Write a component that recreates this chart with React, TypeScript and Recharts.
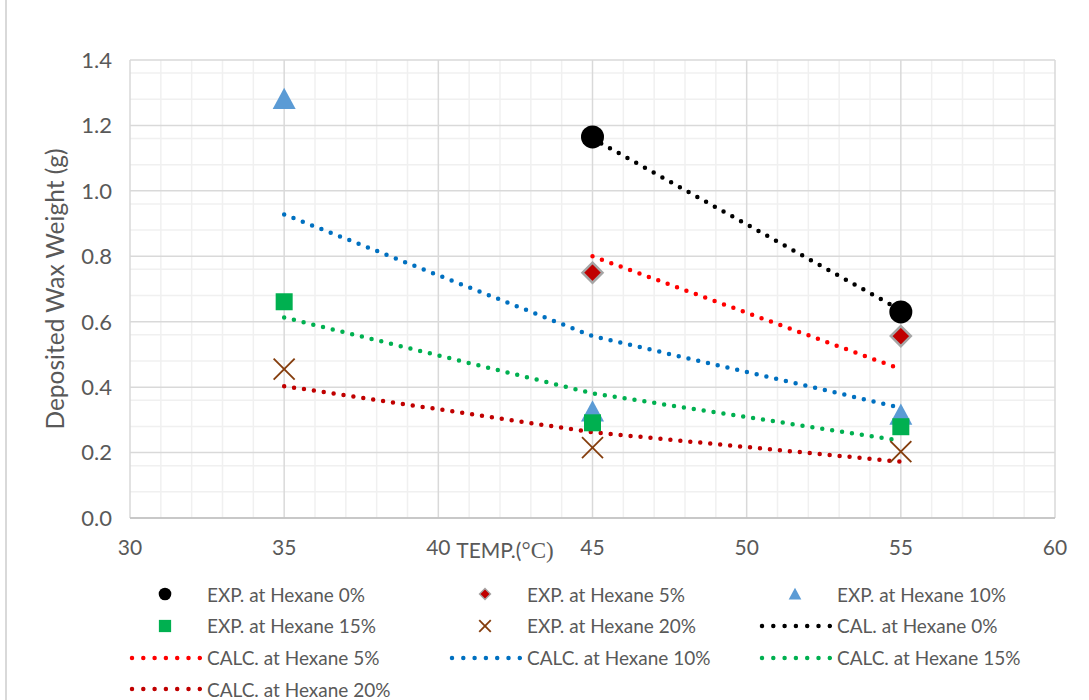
import React from 'react';
import {
  ComposedChart,
  Line,
  Scatter,
  XAxis,
  YAxis,
  CartesianGrid,
} from 'recharts';

// temperatures (°C) and deposited wax weight (g)
const temps = [35, 45, 55];
const tempsHigh = [45, 55];

const expHex0 = [1.165, 0.63];
const expHex5 = [0.75, 0.556];
const expHex10 = [1.28, 0.325, 0.315];
const expHex15 = [0.661, 0.291, 0.279];
const expHex20 = [0.455, 0.215, 0.203];

const calHex0 = [1.16, 0.635];
const calcHex5 = [0.8, 0.455];
const calcHex10 = [0.928, 0.556, 0.337];
const calcHex15 = [0.613, 0.381, 0.236];
const calcHex20 = [0.403, 0.262, 0.172];

const xTicks = [30, 35, 40, 45, 50, 55, 60];
const yTicks = [0, 0.2, 0.4, 0.6, 0.8, 1.0, 1.2, 1.4];
const xMinor = [31, 32, 33, 34, 36, 37, 38, 39, 41, 42, 43, 44, 46, 47, 48, 49, 51, 52, 53, 54, 56, 57, 58, 59];
const yMinor = [0.04, 0.08, 0.12, 0.16, 0.24, 0.28, 0.32, 0.36, 0.44, 0.48, 0.52, 0.56, 0.64, 0.68, 0.72, 0.76, 0.84, 0.88, 0.92, 0.96, 1.04, 1.08, 1.12, 1.16, 1.24, 1.28, 1.32, 1.36];

const toPoints = (xs: number[], ys: number[]) => xs.map((x, i) => ({ x, y: ys[i] }));

const FONT = 'Lato, "Open Sans", sans-serif';
const TEXT = '#595959';

type Kind = 'circle' | 'diamond' | 'triangle' | 'square' | 'cross';

// legend symbols are drawn a bit smaller than the plotted markers
const legendScale: Record<Kind, number> = { circle: 0.55, diamond: 0.55, triangle: 0.55, square: 0.72, cross: 0.55 };

const Marker = ({ kind, cx, cy, s = 1 }: { kind: Kind; cx: number; cy: number; s?: number }) => {
  switch (kind) {
    case 'circle':
      return <circle cx={cx} cy={cy} r={11.5 * s} fill="#000" />;
    case 'diamond': {
      const r = 10 * s;
      return (
        <polygon
          points={`${cx},${cy - r} ${cx + r},${cy} ${cx},${cy + r} ${cx - r},${cy}`}
          fill="#c00000"
          stroke="#a5a5a5"
          strokeWidth={2.5 * s}
        />
      );
    }
    case 'triangle': {
      const r = 11.5 * s;
      return (
        <polygon
          points={`${cx},${cy - r} ${cx + r},${cy + r * 0.85} ${cx - r},${cy + r * 0.85}`}
          fill="#5b9bd5"
        />
      );
    }
    case 'square': {
      const r = 8.5 * s;
      return <rect x={cx - r} y={cy - r} width={2 * r} height={2 * r} fill="#00b050" />;
    }
    case 'cross': {
      const r = 10.5 * s;
      return (
        <g stroke="#843c0c" strokeWidth={1.8}>
          <line x1={cx - r} y1={cy - r} x2={cx + r} y2={cy + r} />
          <line x1={cx - r} y1={cy + r} x2={cx + r} y2={cy - r} />
        </g>
      );
    }
  }
  return null;
};

const expSeries: { name: string; data: { x: number; y: number }[]; kind: Kind }[] = [
  { name: 'EXP. at Hexane 0%', data: toPoints(tempsHigh, expHex0), kind: 'circle' },
  { name: 'EXP. at Hexane 5%', data: toPoints(tempsHigh, expHex5), kind: 'diamond' },
  { name: 'EXP. at Hexane 10%', data: toPoints(temps, expHex10), kind: 'triangle' },
  { name: 'EXP. at Hexane 15%', data: toPoints(temps, expHex15), kind: 'square' },
  { name: 'EXP. at Hexane 20%', data: toPoints(temps, expHex20), kind: 'cross' },
];

const calcSeries = [
  { name: 'CAL. at Hexane 0%', data: toPoints(tempsHigh, calHex0), color: '#000000' },
  { name: 'CALC. at Hexane 5%', data: toPoints(tempsHigh, calcHex5), color: '#ff0000' },
  { name: 'CALC. at Hexane 10%', data: toPoints(temps, calcHex10), color: '#0070c0' },
  { name: 'CALC. at Hexane 15%', data: toPoints(temps, calcHex15), color: '#00b050' },
  { name: 'CALC. at Hexane 20%', data: toPoints(temps, calcHex20), color: '#c00000' },
];

const legendItems = [
  ...expSeries.map((s) => ({ name: s.name, kind: s.kind as Kind | null, color: '' })),
  ...calcSeries.map((s) => ({ name: s.name, kind: null as Kind | null, color: s.color })),
];

const ChartLegend = () => {
  const colX = [120, 440, 750];
  return (
    <div style={{ position: 'absolute', left: 0, top: 578, width: 1089 }}>
      {legendItems.map((item, i) => {
        const col = i % 3;
        const row = Math.floor(i / 3);
        return (
          <div
            key={item.name}
            style={{
              position: 'absolute',
              left: colX[col],
              top: row * 31.8,
              height: 32,
              display: 'flex',
              alignItems: 'center',
              fontFamily: FONT,
              fontSize: 19,
              color: TEXT,
              whiteSpace: 'nowrap',
            }}
          >
            <svg width={82} height={20} style={{ marginRight: 5 }}>
              {item.kind ? (
                <Marker kind={item.kind} cx={45} cy={10} s={legendScale[item.kind]} />
              ) : (
                <line
                  x1={12}
                  y1={10}
                  x2={80}
                  y2={10}
                  stroke={item.color}
                  strokeWidth={4.5}
                  strokeDasharray="0 11.3"
                  strokeLinecap="round"
                />
              )}
            </svg>
            {item.name}
          </div>
        );
      })}
    </div>
  );
};

const XTitle = () => (
  <text x={505} y={558} textAnchor="middle" fill={TEXT} fontSize={21}>
    <tspan fontFamily={FONT}>TEMP.(</tspan>
    <tspan fontFamily='"Liberation Serif", serif' fontSize={23}>°C)</tspan>
  </text>
);

const App: React.FC = () => {
  return (
    <div style={{ position: 'absolute', left: 0, top: 0, width: 1089, height: 700, background: '#fff', overflow: 'hidden' }}>
      <ComposedChart
        width={1089}
        height={700}
        margin={{ top: 60, right: 34, left: 0, bottom: 142 }}
        style={{ fontFamily: FONT }}
      >
        <CartesianGrid verticalValues={xMinor} horizontalValues={yMinor} stroke="#f0f0f0" strokeWidth={1.5} />
        <CartesianGrid stroke="#d9d9d9" strokeWidth={1.5} />
        <XAxis
          type="number"
          dataKey="x"
          domain={[30, 60]}
          ticks={xTicks}
          tickLine={false}
          stroke="#bfbfbf"
          strokeWidth={1.5}
          tick={{ fill: TEXT, fontSize: 21 }}
          tickMargin={16}
          height={40}
          allowDuplicatedCategory={false}
        />
        <YAxis
          type="number"
          dataKey="y"
          domain={[0, 1.4]}
          ticks={yTicks}
          axisLine={false}
          tickLine={false}
          tick={{ fill: TEXT, fontSize: 22 }}
          tickFormatter={(v: number) => v.toFixed(1)}
          tickMargin={12}
          width={130}
          label={{
            value: 'Deposited Wax Weight (g)',
            angle: -90,
            position: 'insideLeft',
            offset: 55,
            style: { textAnchor: 'middle', fill: TEXT, fontSize: 24.5, fontFamily: FONT },
          }}
        />
        {calcSeries.map((s) => (
          <Line
            key={s.name}
            data={s.data}
            dataKey="y"
            name={s.name}
            type="linear"
            stroke={s.color}
            strokeWidth={4.5}
            strokeDasharray="0 10"
            strokeLinecap="round"
            dot={false}
            activeDot={false}
            isAnimationActive={false}
          />
        ))}
        {expSeries.map((s) => (
          <Scatter
            key={s.name}
            data={s.data}
            dataKey="y"
            name={s.name}
            isAnimationActive={false}
            shape={(p: any) => <Marker kind={s.kind} cx={p.cx} cy={p.cy} />}
          />
        ))}
        <XTitle />
      </ComposedChart>
      <ChartLegend />
      <div style={{ position: 'absolute', left: 5, top: 0, width: 2, height: 700, background: '#d9d9d9', pointerEvents: 'none' }} />
    </div>
  );
};

export default App;
